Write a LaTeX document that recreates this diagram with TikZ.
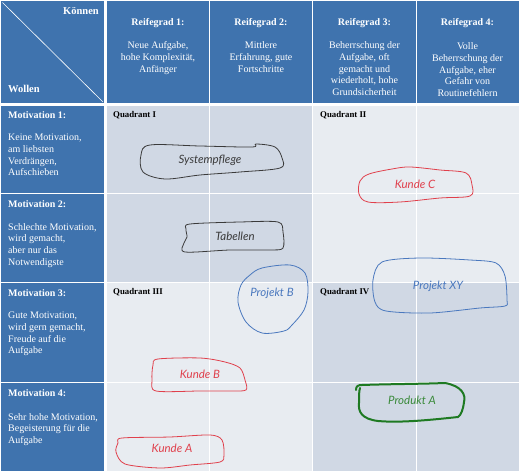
\documentclass[tikz,border=0pt]{standalone}
\usepackage{fontspec}
\setmainfont{Liberation Serif}
\newfontfamily\handfont{Lato}
\definecolor{cblue}{HTML}{3F73AE}
\definecolor{qdark}{HTML}{D0D8E4}
\definecolor{qlight}{HTML}{E8ECF1}
\definecolor{hblack}{HTML}{3A3A3A}
\definecolor{hblue}{HTML}{4A78BE}
\definecolor{hred}{HTML}{E0404C}
\definecolor{hgreen}{HTML}{1E7A22}
\definecolor{tgreen}{HTML}{3A8A3A}
\begin{document}
\begin{tikzpicture}[x=1pt,y=-1pt,
  hdrtitle/.style={text=white,font=\fontsize{10}{11.7}\selectfont\bfseries,inner sep=0pt},
  hdrtext/.style={text=white,font=\fontsize{10}{11.7}\selectfont,align=center,inner sep=0pt,anchor=north},
  mottitle/.style={text=white,font=\fontsize{10}{11.7}\selectfont\bfseries,inner sep=0pt,anchor=west},
  mottext/.style={text=white,font=\fontsize{10}{11.7}\selectfont,align=left,inner sep=0pt,anchor=north west},
  corner/.style={text=white,font=\fontsize{10.5}{12}\selectfont\bfseries,inner sep=0pt},
  quad/.style={text=black,font=\fontsize{8.8}{10}\selectfont\bfseries,inner sep=0pt,anchor=west},
  hand/.style={font=\fontsize{11.5}{13}\selectfont\handfont\itshape,inner sep=0pt},
  gridline/.style={white,line width=1pt},
  thickgrid/.style={white,line width=3pt},
  blob/.style={line width=0.8pt,line join=round},
]
\useasboundingbox (0,0) rectangle (520,473);
\fill[white] (0,0) rectangle (520,473);
% blue header and left column
\fill[cblue] (1,1) rectangle (519,103);
\fill[cblue] (1,106) rectangle (104,471);
% quadrants
\fill[qdark]  (107,106) rectangle (312.5,283);
\fill[qlight] (312.5,106) rectangle (519,283);
\fill[qlight] (107,283) rectangle (312.5,471);
\fill[qdark]  (312.5,283) rectangle (519,471);
% grid lines
\draw[gridline] (209.5,0) -- (209.5,473);
\draw[gridline] (312.5,0) -- (312.5,473);
\draw[gridline] (416.5,0) -- (416.5,473);
\draw[gridline] (0,194) -- (520,194);
\draw[gridline] (0,283) -- (520,283);
\draw[gridline] (0,383) -- (520,383);
\draw[thickgrid] (105.5,0) -- (105.5,473);
\draw[thickgrid] (0,104.5) -- (520,104.5);
% diagonal
\coordinate (dA) at (2.5,2.5);
\coordinate (dB) at (103,102);
\draw[white,line width=0.6pt] (dA) -- (dB);
\node[corner,anchor=east] (koennen) at (99,11) {Können};
\node[corner,anchor=west] (wollen) at (8,89) {Wollen};
% header
\node[hdrtitle] (r1) at (158,23) {Reifegrad 1:};
\node[hdrtitle] (r2) at (261,23) {Reifegrad 2:};
\node[hdrtitle] (r3) at (364.5,23) {Reifegrad 3:};
\node[hdrtitle] (r4) at (467.5,23) {Reifegrad 4:};
\node[hdrtext] (d1) at (158,41.5) {Neue Aufgabe,\\hohe Komplexität,\\Anfänger};
\node[hdrtext] (d2) at (261,41.5) {Mittlere\\Erfahrung, gute\\Fortschritte};
\node[hdrtext] (d3) at (364.5,41.5) {Beherrschung der\\Aufgabe, oft\\gemacht und\\wiederholt, hohe\\Grundsicherheit};
\node[hdrtext] (d4) at (467.5,42.5) {Volle\\Beherrschung der\\Aufgabe, eher\\Gefahr von\\Routinefehlern};
% left column
\node[mottitle] (m1) at (8,115) {Motivation 1:};
\node[mottext] (t1) at (8,134) {Keine Motivation,\\am liebsten\\Verdrängen,\\Aufschieben};
\node[mottitle] (m2) at (8,204) {Motivation 2:};
\node[mottext] (t2) at (8,223) {Schlechte Motivation,\\wird gemacht,\\aber nur das\\Notwendigste};
\node[mottitle] (m3) at (8,293) {Motivation 3:};
\node[mottext] (t3) at (8,312) {Gute Motivation,\\wird gern gemacht,\\Freude auf die\\Aufgabe};
\node[mottitle] (m4) at (8,393) {Motivation 4:};
\node[mottext] (t4) at (8,413) {Sehr hohe Motivation,\\Begeisterung für die\\Aufgabe};
% quadrant labels
\node[quad] (q1) at (113,115) {Quadrant I};
\node[quad] (q2) at (320,115) {Quadrant II};
\node[quad] (q3) at (113,292) {Quadrant III};
\node[quad] (q4) at (320,292) {Quadrant IV};
% blobs
\draw[blob,hblack] plot[smooth cycle,tension=0.55] coordinates {(150,145) (200,146) (252,147) (256,144) (275,147) (282,158) (280,168) (240,172) (200,175) (165,179) (143,172) (141,155)};
\node[hand,text=hblack] (sys) at (210,160) {Systempflege};
\draw[blob,hblack] plot[smooth cycle,tension=0.5] coordinates {(190,224) (240,222) (278,222) (283,232) (283,248) (270,250) (230,250) (185,252) (184,243) (187,237) (186,229)};
\node[hand,text=hblack] (tab) at (235,236) {Tabellen};
\draw[blob,hblue] plot[smooth cycle,tension=0.55] coordinates {(262,268) (290,265) (305,273) (308,292) (304,310) (292,325) (284,331) (262,333) (246,322) (238,302) (241,285) (250,275)};
\node[hand,text=hblue] (pb) at (272,293) {Projekt B};
\draw[blob,hblue] plot[smooth cycle,tension=0.5] coordinates {(382,262) (420,258) (470,260) (496,263) (505,276) (507,300) (505,306) (480,308) (430,313) (386,311) (375,302) (373,280)};
\node[hand,text=hblue] (pxy) at (438,286) {Projekt XY};
\draw[blob,hred] plot[smooth cycle,tension=0.55] coordinates {(369,174) (392,169) (410,167) (440,170) (466,173) (472,185) (470,196) (440,198) (400,202) (368,202) (359,194) (360,181)};
\node[hand,text=hred] (kc) at (415,184) {Kunde C};
\draw[blob,hred] plot[smooth cycle,tension=0.5] coordinates {(158,359) (200,358) (225,362) (240,368) (245,380) (246,390) (230,391) (200,391) (156,391) (152,380) (153,365)};
\node[hand,text=hred] (kb) at (200,374) {Kunde B};
\draw[blob,hred] plot[smooth cycle,tension=0.5] coordinates {(122,438) (170,437) (210,435) (222,440) (224,455) (220,462) (190,465) (160,468) (125,464) (116,452) (118,443)};
\node[hand,text=hred] (ka) at (172,448) {Kunde A};
\draw[hgreen,line width=2pt,line cap=round,line join=round] (356,390) .. controls (356,386) and (358,385) .. (362,385) .. controls (390,384) and (420,384) .. (445,383) .. controls (462,386) and (466,395) .. (464,402) .. controls (463,410) and (461,415) .. (458,417) .. controls (430,420) and (400,423) .. (378,421) .. controls (362,419) and (358,412) .. (359,403) .. controls (359,396) and (359,391) .. (360,388);
\node[hand,text=tgreen] (pa) at (412,400) {Produkt A};
\end{tikzpicture}
\end{document}
